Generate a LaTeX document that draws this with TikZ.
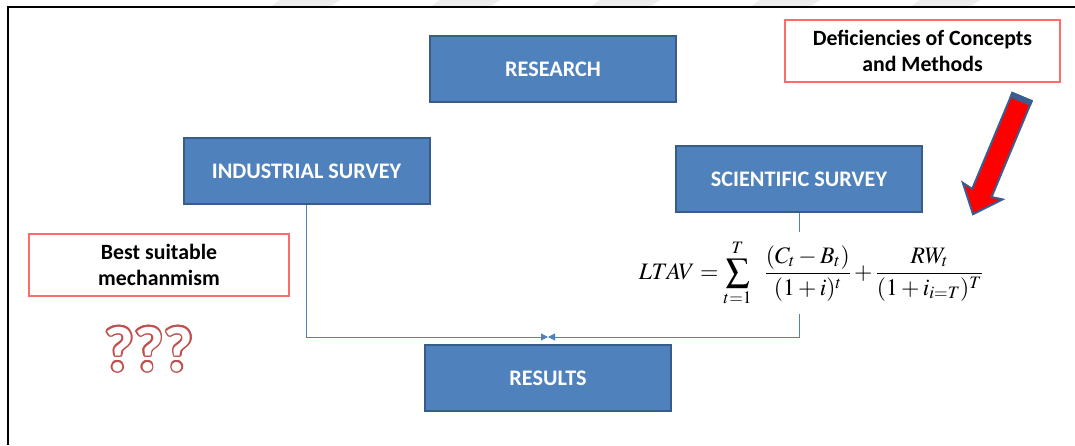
\documentclass[tikz,border=0pt]{standalone}
\usepackage{mathptmx}
\usepackage{fontspec}
\usepackage[copies]{contour}
\usetikzlibrary{arrows.meta}
\newfontfamily\calfont{Carlito}
\definecolor{boxfill}{HTML}{4F81BD}
\definecolor{boxedge}{HTML}{385D8A}
\definecolor{noteedge}{HTML}{FF6B6B}
\definecolor{linkblue}{HTML}{4F81BD}
\definecolor{qmark}{HTML}{C0504D}
\definecolor{arrowedge}{HTML}{3A5F8F}
\definecolor{stripe}{HTML}{EDEDED}
\tikzset{
  bluebox/.style={draw=boxedge, line width=2pt, fill=boxfill,
    minimum width=246pt, minimum height=66pt, inner sep=0pt,
    text=white, font=\calfont\bfseries\fontsize{22.2}{26}\selectfont},
  notebox/.style={draw=noteedge, line width=1.2pt, fill=white,
    align=center, inner sep=0pt, text=black,
    font=\calfont\bfseries\fontsize{21.8}{26}\selectfont},
  link/.style={draw=linkblue, line width=1pt,
    -{Triangle[length=7pt,width=7pt]}},
}
\begin{document}
\begin{tikzpicture}[x=1pt,y=-1pt]
\useasboundingbox (0,0) rectangle (1075,445);
% faint diagonal stripes along the top edge
\begin{scope}
  \clip (0,0) rectangle (1075,7);
  \foreach \s in {280,440,600,760,920}
    \fill[stripe] (\s,0) -- (\s+60,0) -- (\s+50,7) -- (\s-10,7) -- cycle;
\end{scope}
% page frame
\draw[line width=2pt] (8,445) -- (8,7) -- (1075,7);

% process boxes
\node[bluebox] (research) at (553,69) {RESEARCH};
\node[bluebox] (industrial) at (306.5,171) {INDUSTRIAL SURVEY};
\node[bluebox] (scientific) at (799,179) {SCIENTIFIC SURVEY};
\node[bluebox] (results) at (548,378) {RESULTS};

% connectors into the results
\coordinate (meet) at (548,337);
\draw[link] (industrial.south) |- (meet);
\draw[link] (scientific.south) |- (meet);

% valuation formula over the right connector
\node[fill=white, inner xsep=2pt, minimum height=82pt] (formula) at (811,273)
  {\fontsize{23.6}{28}\selectfont
   $\displaystyle LTAV=\sum_{t=1}^{T}\;\;\frac{(C_t-B_t)}{(1+i)^t}+\frac{RW_t}{(1+i_{i=T})^T}$};

% remarks
\node[notebox, minimum width=275pt, minimum height=62pt] (deficiency) at (922.5,51)
  {Deficiencies of Concepts\\and Methods};
\node[notebox, minimum width=260pt, minimum height=62pt] (best) at (159,265)
  {Best suitable\\mechanmism};

% outlined question marks
\contourlength{1.6pt}
\node[inner sep=0pt] (questions) at (149,350)
  {\calfont\bfseries\fontsize{64}{64}\selectfont\contour{qmark}{\textcolor{white}{???}}};

% block arrow pointing at the formula
\begin{scope}[shift={(1022,97)}, rotate=247.3]
  \filldraw[fill=red, draw=arrowedge, line width=2pt, line join=miter]
    (0,-10.5) -- (104,-10.5) -- (102,-21.5) -- (127,0) -- (102,21.5)
    -- (104,10.5) -- (0,10.5) -- cycle;
  \fill[arrowedge] (-1,-11.5) rectangle (5,11.5);
\end{scope}
\end{tikzpicture}
\end{document}
